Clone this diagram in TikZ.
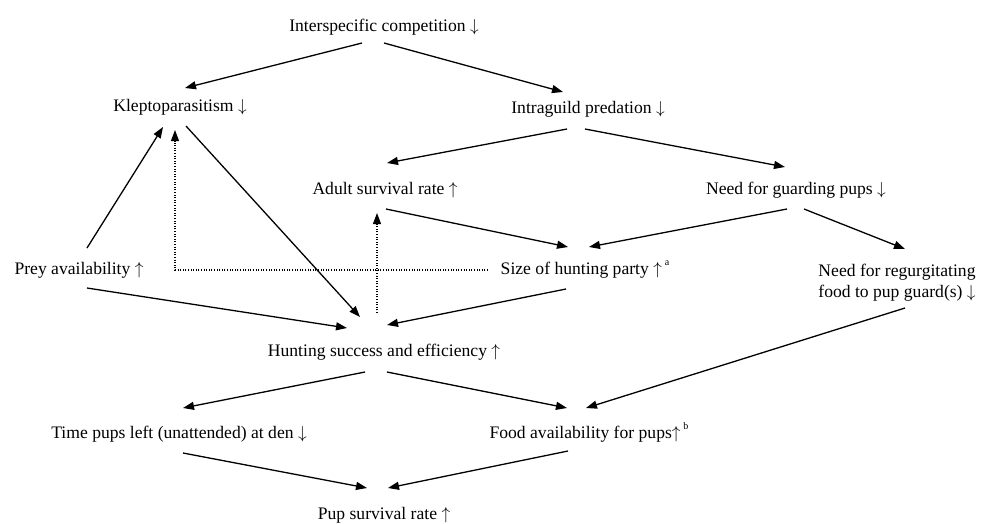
\documentclass[tikz,border=0pt]{standalone}
\usepackage{fontspec}
\setmainfont{Liberation Serif}
\usetikzlibrary{arrows.meta,calc}
\newcommand{\supnote}[1]{\raisebox{0.5em}{\fontsize{10}{10}\selectfont #1}}
\newcommand{\UpA}{$\uparrow$}
\newcommand{\DnA}{$\downarrow$}
\begin{document}
\begin{tikzpicture}[x=1pt,y=-1pt,
  lbl/.style={anchor=base,inner sep=0pt,font=\fontsize{17.6}{22}\selectfont},
  arr/.style={line width=1.3pt,-{Triangle[length=11pt,width=8pt]}},
  dotarr/.style={line width=1.1pt,dash pattern=on 1pt off 1.6pt,-{Triangle[length=11pt,width=8pt]}}]
\useasboundingbox (0,0) rectangle (990,523);
% nodes
\node[lbl] (IC) at (384,31) {Interspecific competition \DnA};
\node[lbl] (KL) at (180,111) {Kleptoparasitism \DnA};
\node[lbl] (IG) at (588,113) {Intraguild predation \DnA};
\node[lbl] (AS) at (385,194) {Adult survival rate \UpA};
\node[lbl] (NG) at (796,194) {Need for guarding pups \DnA};
\node[lbl] (PA) at (79,274) {Prey availability \UpA};
\node[lbl] (SH) at (585,274) {Size of hunting party \UpA\,\supnote{a}};
\node[lbl] (NR) at (897,276) {\begin{tabular}[t]{@{}c@{}}Need for regurgitating\\[-0.5pt] food to pup guard(s) \DnA\end{tabular}};
\node[lbl] (HS) at (384,356) {Hunting success and efficiency \UpA};
\node[lbl] (TP) at (179,438) {Time pups left (unattended) at den \DnA};
\node[lbl] (FA) at (589,438) {Food availability for pups\UpA\,\supnote{b}};
\node[lbl] (PS) at (384,519) {Pup survival rate \UpA};
% connectors
\draw[arr] ($(IC.base)+(-22,12)$) -- ($(KL.base)+(5,-23)$);
\draw[arr] ($(IC.base)+(0,12)$) -- ($(IG.base)+(-25,-21)$);
\draw[arr] ($(IG.base)+(-21,16)$) -- ($(AS.base)+(2,-31)$);
\draw[arr] ($(IG.base)+(-3,16)$) -- ($(NG.base)+(-11,-27)$);
\draw[arr] ($(AS.base)+(1,15)$) -- ($(SH.base)+(-17,-27)$);
\draw[arr] ($(NG.base)+(-9,15)$) -- ($(SH.base)+(4,-27)$);
\draw[arr] ($(NG.base)+(8,15)$) -- ($(NR.base)+(8,-27)$);
\draw[arr] ($(PA.base)+(8,-26)$) -- ($(KL.base)+(-17,16)$);
\draw[arr] ($(KL.base)+(6,15)$) -- ($(HS.base)+(-24,-39)$);
\draw[arr] ($(PA.base)+(8,14)$) -- ($(HS.base)+(-37,-28)$);
\draw[arr] ($(SH.base)+(-19,15)$) -- ($(HS.base)+(3,-31)$);
\draw[arr] ($(NR.base)+(8,32)$) -- ($(FA.base)+(-3,-30)$);
\draw[arr] ($(HS.base)+(-19,16)$) -- ($(TP.base)+(4,-30)$);
\draw[arr] ($(HS.base)+(3,16)$) -- ($(FA.base)+(-22,-30)$);
\draw[arr] ($(TP.base)+(4,15)$) -- ($(PS.base)+(-17,-31)$);
\draw[arr] ($(FA.base)+(-21,13)$) -- ($(PS.base)+(4,-31)$);
% dotted connectors
\draw[dotarr] ($(SH.base)+(-97,-4)$) -| ($(KL.base)+(-5,19)$);
\draw[dotarr] ($(HS.base)+(-7,-43)$) -- ($(AS.base)+(-8,19)$);
\end{tikzpicture}
\end{document}
